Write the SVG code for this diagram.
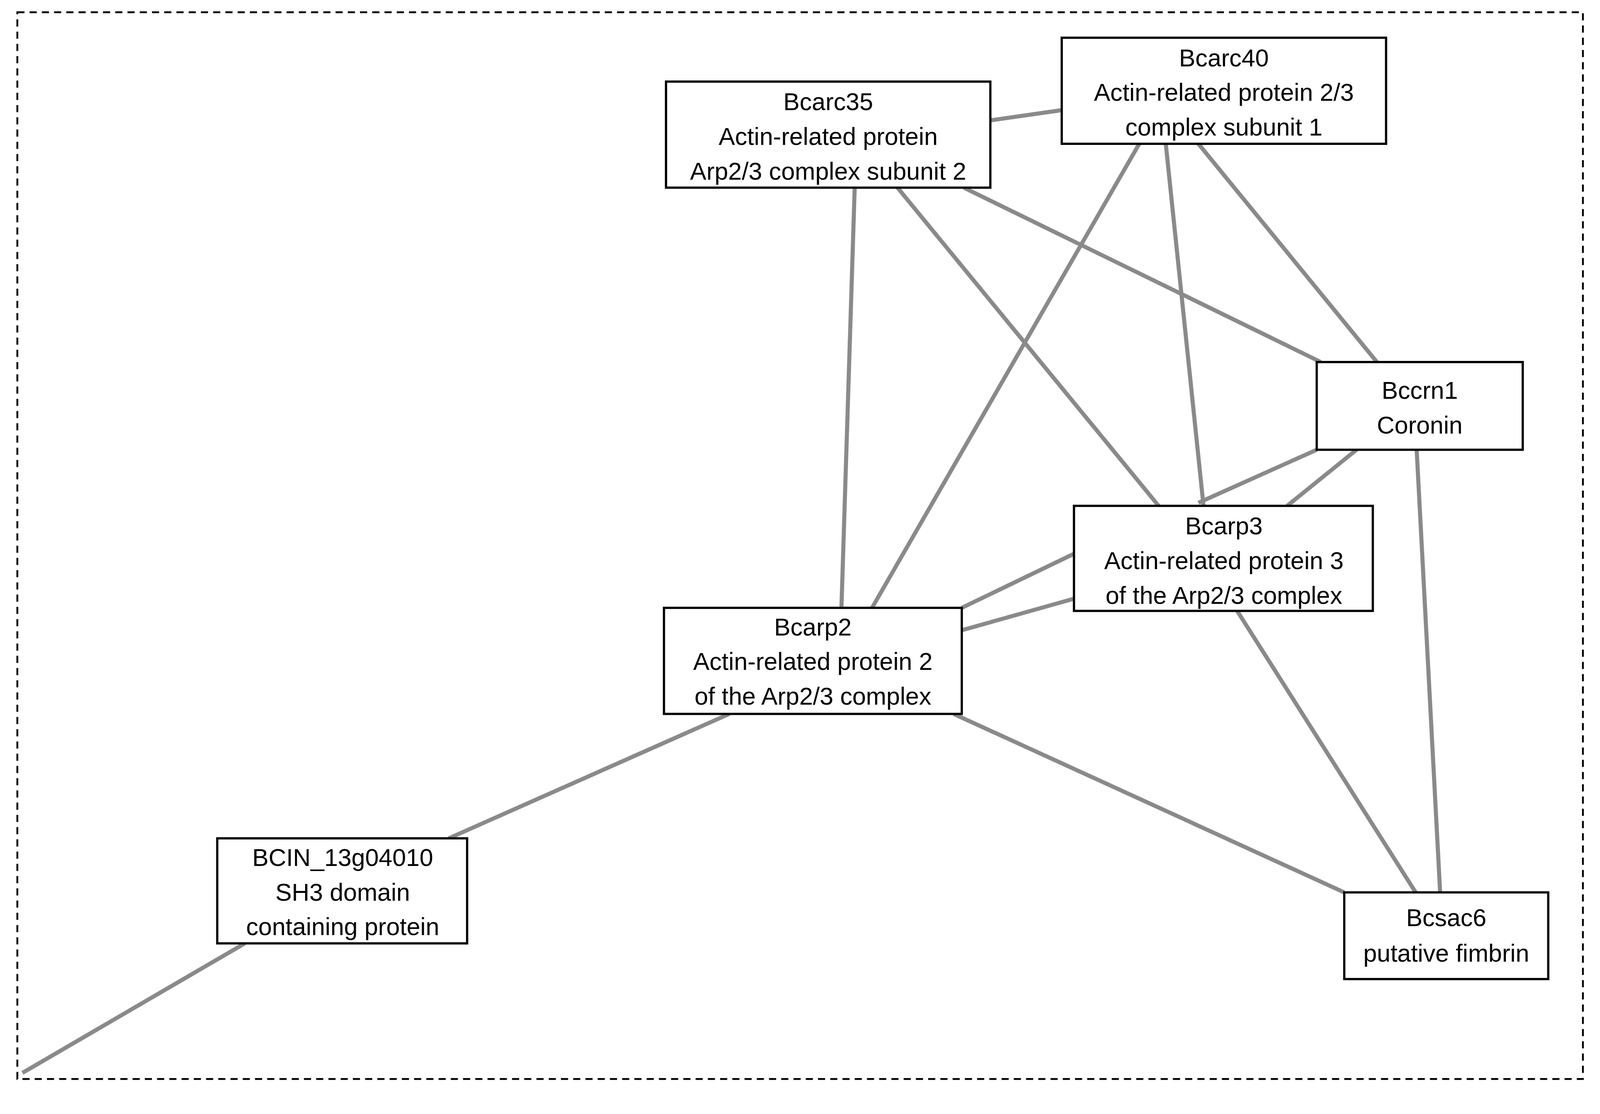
<svg xmlns="http://www.w3.org/2000/svg" width="4168" height="2852" viewBox="0 0 4168 2852">
<style>
.e{stroke:#8a8a8a;stroke-width:4;fill:none}
.b{fill:#fff;stroke:#000;stroke-width:2.2}
.t{font-family:"Liberation Sans",Arial,sans-serif;font-size:24px;fill:#000;text-anchor:middle}
</style>
<rect width="4168" height="2852" fill="#fff"/>
<g transform="scale(2.611)">
<rect x="17" y="12" width="1535" height="1046" fill="none" stroke="#000" stroke-width="1.8" stroke-dasharray="7,5"/>
<g id="connectors">
<line class="e" x1="971" y1="118" x2="1041" y2="108"/>
<line class="e" x1="838" y1="184" x2="825" y2="596"/>
<line class="e" x1="880" y1="184" x2="1136" y2="496"/>
<line class="e" x1="945" y1="184" x2="1295" y2="355"/>
<line class="e" x1="1117" y1="141" x2="855" y2="596"/>
<line class="e" x1="1143" y1="141" x2="1180" y2="496"/>
<line class="e" x1="1175" y1="141" x2="1350" y2="355"/>
<line class="e" x1="1291" y1="441" x2="1175" y2="493"/>
<line class="e" x1="1330" y1="441" x2="1262" y2="496"/>
<line class="e" x1="1053" y1="543" x2="943" y2="596"/>
<line class="e" x1="1053" y1="587" x2="943" y2="618"/>
<line class="e" x1="1213" y1="599" x2="1388" y2="875"/>
<line class="e" x1="1389" y1="441" x2="1412" y2="875"/>
<line class="e" x1="935" y1="700" x2="1318" y2="875"/>
<line class="e" x1="715" y1="700" x2="440" y2="822"/>
<line class="e" x1="240" y1="925" x2="22" y2="1052"/>
</g>
<g id="Bcarc35"><rect class="b" x="653" y="80" width="318" height="104"/>
<text class="t" x="812" y="108">Bcarc35</text><text class="t" x="812" y="142">Actin-related protein</text><text class="t" x="812" y="176">Arp2/3 complex subunit 2</text></g>
<g id="Bcarc40"><rect class="b" x="1041" y="37" width="318" height="104"/>
<text class="t" x="1200" y="65">Bcarc40</text><text class="t" x="1200" y="99">Actin-related protein 2/3</text><text class="t" x="1200" y="133">complex subunit 1</text></g>
<g id="Bccrn1"><rect class="b" x="1291" y="355" width="202" height="86"/>
<text class="t" x="1392" y="391">Bccrn1</text><text class="t" x="1392" y="425">Coronin</text></g>
<g id="Bcarp3"><rect class="b" x="1053" y="496" width="293" height="103"/>
<text class="t" x="1200" y="524">Bcarp3</text><text class="t" x="1200" y="558">Actin-related protein 3</text><text class="t" x="1200" y="592">of the Arp2/3 complex</text></g>
<g id="Bcarp2"><rect class="b" x="651" y="596" width="292" height="104"/>
<text class="t" x="797" y="623">Bcarp2</text><text class="t" x="797" y="657">Actin-related protein 2</text><text class="t" x="797" y="691">of the Arp2/3 complex</text></g>
<g id="BCIN_13g04010"><rect class="b" x="213" y="822" width="245" height="103"/>
<text class="t" x="336" y="849">BCIN_13g04010</text><text class="t" x="336" y="883">SH3 domain</text><text class="t" x="336" y="917">containing protein</text></g>
<g id="Bcsac6"><rect class="b" x="1318" y="875" width="200" height="85"/>
<text class="t" x="1418" y="908">Bcsac6</text><text class="t" x="1418" y="943">putative fimbrin</text></g>
</g>
</svg>
